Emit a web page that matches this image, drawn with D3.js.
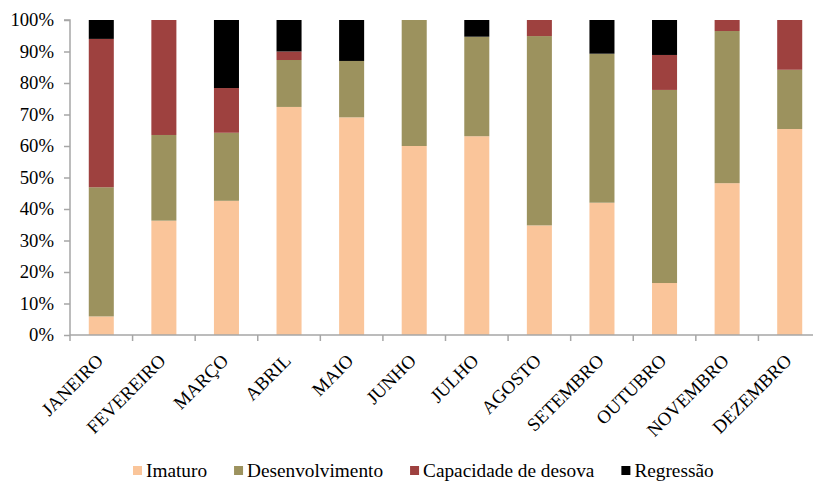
<!DOCTYPE html>
<html>
<head>
<meta charset="utf-8">
<script src="https://cdn.jsdelivr.net/npm/d3@7"></script>
<style>
  html, body { margin: 0; padding: 0; background: #fff; }
  svg { display: block; }
  svg text { font-family: "Liberation Serif", serif; }
</style>
</head>
<body>
<svg id="chart" width="813" height="481"></svg>
<script>
// Monthly gonadal maturity stage frequencies (%)
const months = ["JANEIRO", "FEVEREIRO", "MARÇO", "ABRIL", "MAIO", "JUNHO",
                "JULHO", "AGOSTO", "SETEMBRO", "OUTUBRO", "NOVEMBRO", "DEZEMBRO"];
const imaturo         = [5.9, 36.3, 42.6, 72.4, 69.1, 60.0, 63.1, 34.8, 42.0, 16.5, 48.2, 65.4];
const desenvolvimento = [41.0, 27.2, 21.6, 14.9, 17.9, 40.0, 31.6, 60.1, 47.3, 61.3, 48.3, 18.8];
const capacidade      = [47.1, 36.5, 14.2, 2.7, 0, 0, 0, 5.1, 0, 11.1, 3.5, 15.8];
const regressao       = [6.0, 0, 21.6, 10.0, 13.0, 0, 5.3, 0, 10.7, 11.1, 0, 0];
const seriesNames = ["Imaturo", "Desenvolvimento", "Capacidade de desova", "Regressão"];
const seriesColors = ["#FAC59A", "#9C925E", "#9E413F", "#000000"];
const yTicks = [0, 10, 20, 30, 40, 50, 60, 70, 80, 90, 100];

const FONT = "'Liberation Serif', serif";
const fontSize = 18.7;
const legendFontSize = 19.3;
const axisColor = "#a6a6a6";

const svg = d3.select("#chart");
const plot = { left: 70, right: 821, top: 20, bottom: 335 };

const rows = months.map((m, i) => ({
  month: m,
  Imaturo: imaturo[i],
  Desenvolvimento: desenvolvimento[i],
  "Capacidade de desova": capacidade[i],
  "Regressão": regressao[i]
}));

// Normalise each month to 100%
const stacked = d3.stack().keys(seriesNames).offset(d3.stackOffsetExpand)(rows);

const x = d3.scaleBand().domain(months)
  .range([plot.left, plot.right])
  .paddingInner(0.6).paddingOuter(0.3);
const y = d3.scaleLinear().domain([0, 1]).range([plot.bottom, plot.top]);

// Bars
svg.append("g").selectAll("g")
  .data(stacked)
  .join("g")
  .attr("fill", (d, i) => seriesColors[i])
  .selectAll("rect")
  .data(d => d)
  .join("rect")
  .attr("x", d => x(d.data.month))
  .attr("width", x.bandwidth())
  .attr("y", d => y(d[1]))
  .attr("height", d => Math.max(0, y(d[0]) - y(d[1])));

// Y axis
const yAxis = d3.axisLeft(y)
  .tickValues(yTicks.map(v => v / 100))
  .tickFormat(v => Math.round(v * 100) + "%")
  .tickSize(6).tickPadding(10);
const gy = svg.append("g").attr("transform", `translate(${plot.left},0)`).call(yAxis)
  .attr("font-family", null).attr("font-size", null);
gy.select(".domain").attr("stroke", axisColor).attr("stroke-width", 1.5)
  .attr("d", `M-6,${y(1)}H0V${y(0)}`);
gy.selectAll(".tick line").attr("stroke", axisColor).attr("stroke-width", 1.5);
gy.selectAll(".tick text")
  .attr("fill", "#000")
  .style("font-family", FONT)
  .style("font-size", fontSize + "px");

// X axis line with tick marks at category boundaries
const gx = svg.append("g");
gx.append("line")
  .attr("x1", plot.left).attr("x2", plot.right)
  .attr("y1", plot.bottom).attr("y2", plot.bottom)
  .attr("stroke", axisColor).attr("stroke-width", 1.5);
const boundaries = d3.range(months.length + 1).map(i => x.range()[0] + i * x.step());
gx.selectAll("line.tk")
  .data(boundaries)
  .join("line")
  .attr("class", "tk")
  .attr("x1", d => d).attr("x2", d => d)
  .attr("y1", plot.bottom).attr("y2", plot.bottom + 6)
  .attr("stroke", axisColor).attr("stroke-width", 1.5);

// Rotated month labels
gx.selectAll("text")
  .data(months)
  .join("text")
  .attr("text-anchor", "end")
  .attr("transform", d => `translate(${x(d) + x.bandwidth() / 2 + 3},${plot.bottom + 27}) rotate(-45)`)
  .attr("fill", "#000")
  .style("font-family", FONT)
  .style("font-size", fontSize + "px")
  .text(d => d);

// Legend
const legend = svg.append("g").attr("transform", "translate(133,0)");
let lx = 0;
seriesNames.forEach((name, i) => {
  const g = legend.append("g").attr("transform", `translate(${lx},0)`);
  g.append("rect").attr("x", 0).attr("y", 466).attr("width", 9).attr("height", 9)
    .attr("fill", seriesColors[i]);
  const t = g.append("text").attr("x", 13).attr("y", 476.5)
    .attr("fill", "#000")
    .style("font-family", FONT)
    .style("font-size", legendFontSize + "px")
    .text(name);
  lx += 13 + t.node().getComputedTextLength() + 27;
});
</script>
</body>
</html>
